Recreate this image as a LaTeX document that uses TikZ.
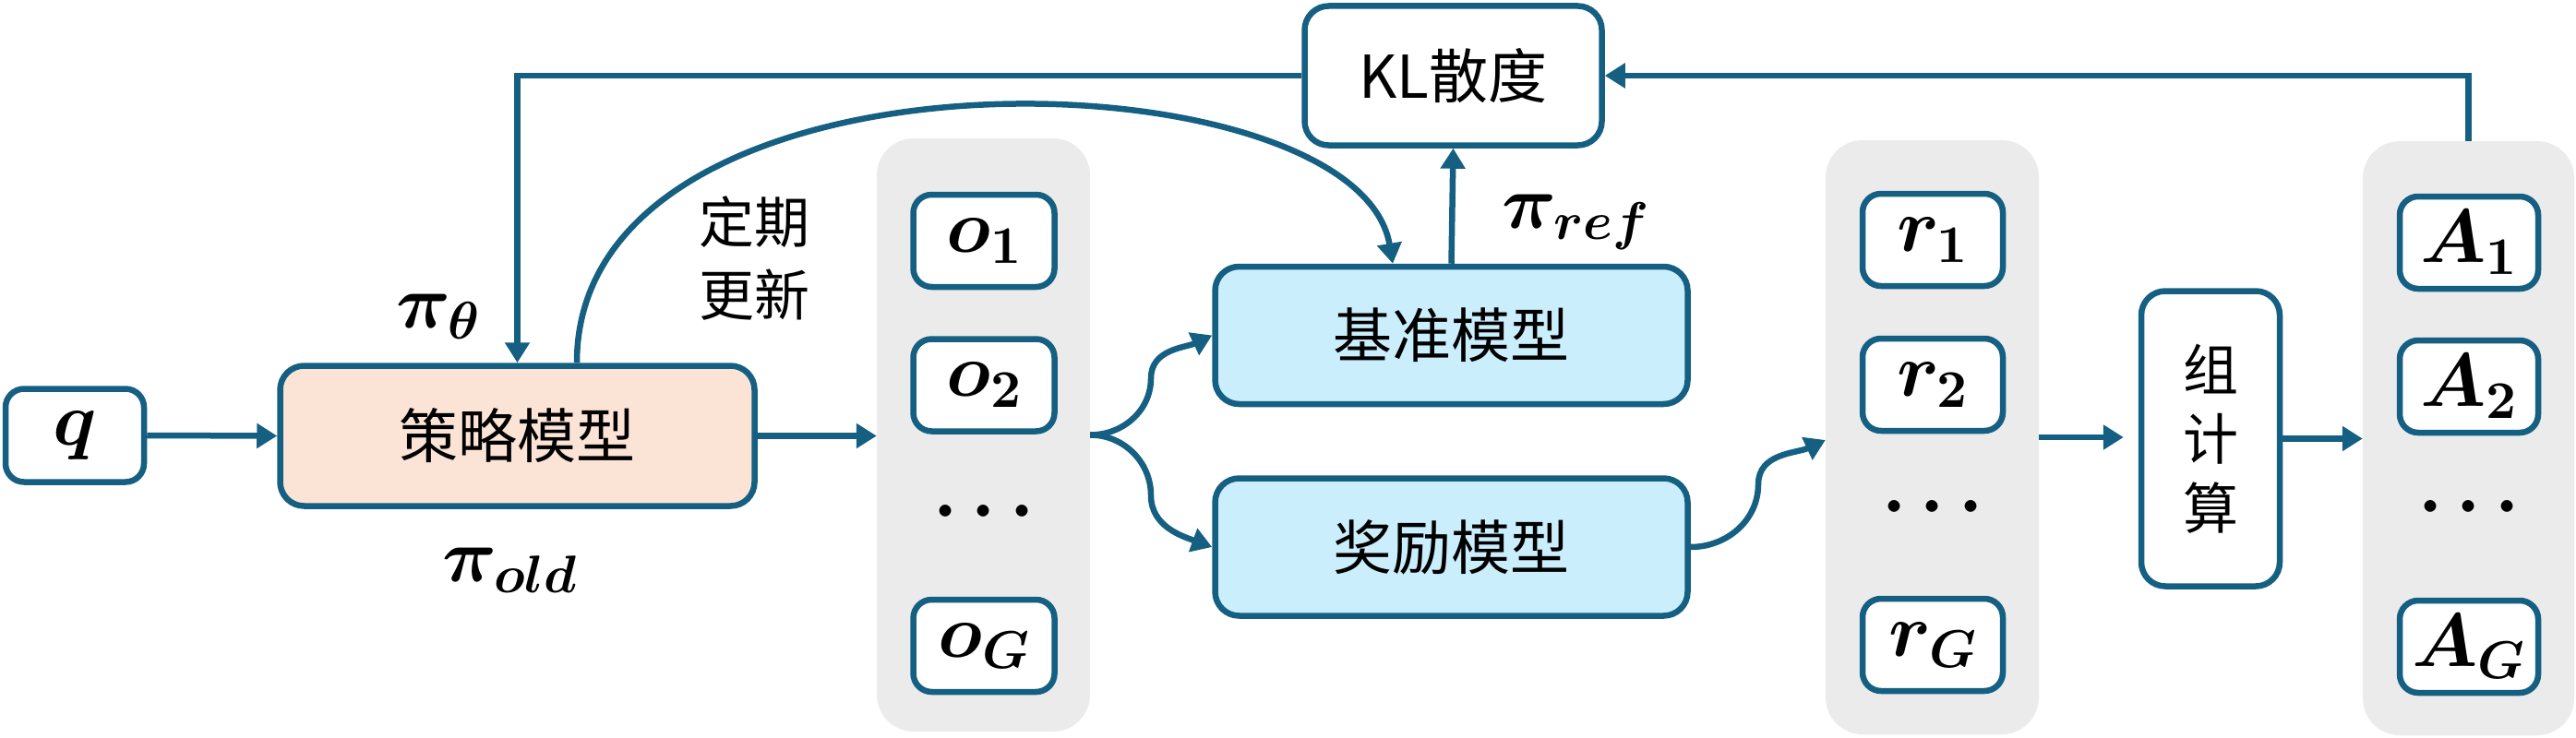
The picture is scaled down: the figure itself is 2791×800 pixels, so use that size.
\documentclass[tikz,border=0pt]{standalone}
\usepackage[no-math]{fontspec}
\setmainfont{Noto Sans CJK SC}
\DeclareFontShape{OML}{cmm}{m}{it}{<->cmmi10}{}
\DeclareFontShape{OML}{cmm}{b}{it}{<->cmmib10}{}
\DeclareFontShape{OT1}{cmr}{m}{n}{<->cmr10}{}
\DeclareFontShape{OT1}{cmr}{bx}{n}{<->cmbx10}{}
\DeclareFontShape{OMS}{cmsy}{m}{n}{<->cmsy10}{}
\DeclareFontShape{OMS}{cmsy}{b}{n}{<->cmbsy10}{}
\usetikzlibrary{arrows.meta}
\definecolor{stk}{HTML}{156082}
\definecolor{peach}{HTML}{FBE3D6}
\definecolor{lblue}{HTML}{CAEEFB}
\definecolor{pgray}{HTML}{EBEBEB}
\newcommand\cnf{\fontsize{64}{76}\selectfont}
\newcommand\mthf{\fontsize{82}{98}\selectfont\boldmath}
\tikzset{
  x=1pt, y=-1pt,
  smallbox/.style={draw=stk, line width=6.5pt, rounded corners=20pt, fill=white, inner sep=0pt, font=\mthf},
  bigbox/.style={draw=stk, line width=6.5pt, rounded corners=26pt, inner sep=0pt, font=\cnf},
  panel/.style={fill=pgray, draw=none, rounded corners=40pt, inner sep=0pt},
  lbl/.style={inner sep=0pt, font=\mthf},
  dots/.style={inner sep=0pt, font=\mthf},
  arr/.style={draw=stk, line width=6.5pt, -{Triangle[length=22pt,width=26pt]}},
}
\begin{document}
\begin{tikzpicture}
\useasboundingbox (0,0) rectangle (2791,800);
% panels
\node[panel, minimum width=231pt, minimum height=643pt] (opanel) at (1065.5,471.5) {};
\node[panel, minimum width=231pt, minimum height=644pt] (rpanel) at (2093.5,474) {};
\node[panel, minimum width=229pt, minimum height=644pt] (apanel) at (2674.5,475) {};
% main boxes
\node[smallbox, minimum width=150pt, minimum height=101pt] (q) at (81,472) {$q$};
\node[bigbox, fill=peach, minimum width=514pt, minimum height=152pt] (policy) at (560.5,472.5) {策略模型};
\node[bigbox, fill=white, minimum width=322pt, minimum height=151pt] (kl) at (1574.5,82) {KL散度};
\node[bigbox, fill=lblue, minimum width=512pt, minimum height=149pt] (ref) at (1572.5,363.5) {基准模型};
\node[bigbox, fill=lblue, minimum width=512pt, minimum height=149pt] (reward) at (1572.5,593) {奖励模型};
\node[bigbox, fill=white, minimum width=150pt, minimum height=320pt, align=center, font=\fontsize{60}{75}\selectfont] (group) at (2395,475.5) {组\\计\\算};
% o boxes
\node[smallbox, minimum width=153pt, minimum height=100pt] (o1) at (1066,261) {$o_1$};
\node[smallbox, minimum width=153pt, minimum height=100pt] (o2) at (1066,417.5) {$o_2$};
\node[dots] (od) at (1066,555) {$\cdots$};
\node[smallbox, minimum width=153pt, minimum height=100pt] (oG) at (1066,700) {$o_G$};
% r boxes
\node[smallbox, minimum width=152pt, minimum height=100pt] (r1) at (2094,260) {$r_1$};
\node[smallbox, minimum width=152pt, minimum height=100pt] (r2) at (2094,417) {$r_2$};
\node[dots] (rd) at (2094,550) {$\cdots$};
\node[smallbox, minimum width=152pt, minimum height=100pt] (rG) at (2094,699) {$r_G$};
% A boxes
\node[smallbox, minimum width=150pt, minimum height=100pt] (A1) at (2675,263) {$A_1$};
\node[smallbox, minimum width=150pt, minimum height=100pt] (A2) at (2675,419) {$A_2$};
\node[dots] (Ad) at (2675,550) {$\cdots$};
\node[smallbox, minimum width=150pt, minimum height=100pt] (AG) at (2675,701) {$A_G$};
% labels
\node[lbl] (pitheta) at (475,343) {$\pi_\theta$};
\node[lbl] (piold) at (552,618) {$\pi_{old}$};
\node[lbl] (piref) at (1707,241) {$\pi_{ref}$};
\node[inner sep=0pt, align=left, font=\fontsize{60}{79}\selectfont] (upd) at (817,280) {定期\\更新};
% helper coordinates
\coordinate (fu) at (1247,410);
\coordinate (fl) at (1247,537);
\coordinate (rr) at (1905,525);
% connectors
\draw[arr] (q.east) -- (policy.west);
\draw[arr] (policy.east) -- (policy.east -| opanel.west);
\draw[arr] (kl.west) -| (policy.north);
\draw[arr] (apanel.north) |- (kl.east);
\draw[arr] (ref.north) -- (kl.south);
\draw[arr] ([xshift=64.5pt]policy.north) .. controls +(0,-363) and +(-39,-231) .. ([xshift=-63.5pt]ref.north);
\draw[arr] (opanel.east) to[out=0,in=-90] (fu) to[out=90,in=205] (ref.west);
\draw[arr] (opanel.east) to[out=0,in=90] (fl) to[out=-90,in=160] (reward.west);
\draw[arr] (reward.east) to[out=0,in=-90] (rr) to[out=90,in=205] ([yshift=-3pt]rpanel.west);
\draw[arr, shorten >=16pt] (rpanel.east) -- (rpanel.east -| group.west);
\draw[arr] (group.east) -- (group.east -| apanel.west);
\end{tikzpicture}
\end{document}
